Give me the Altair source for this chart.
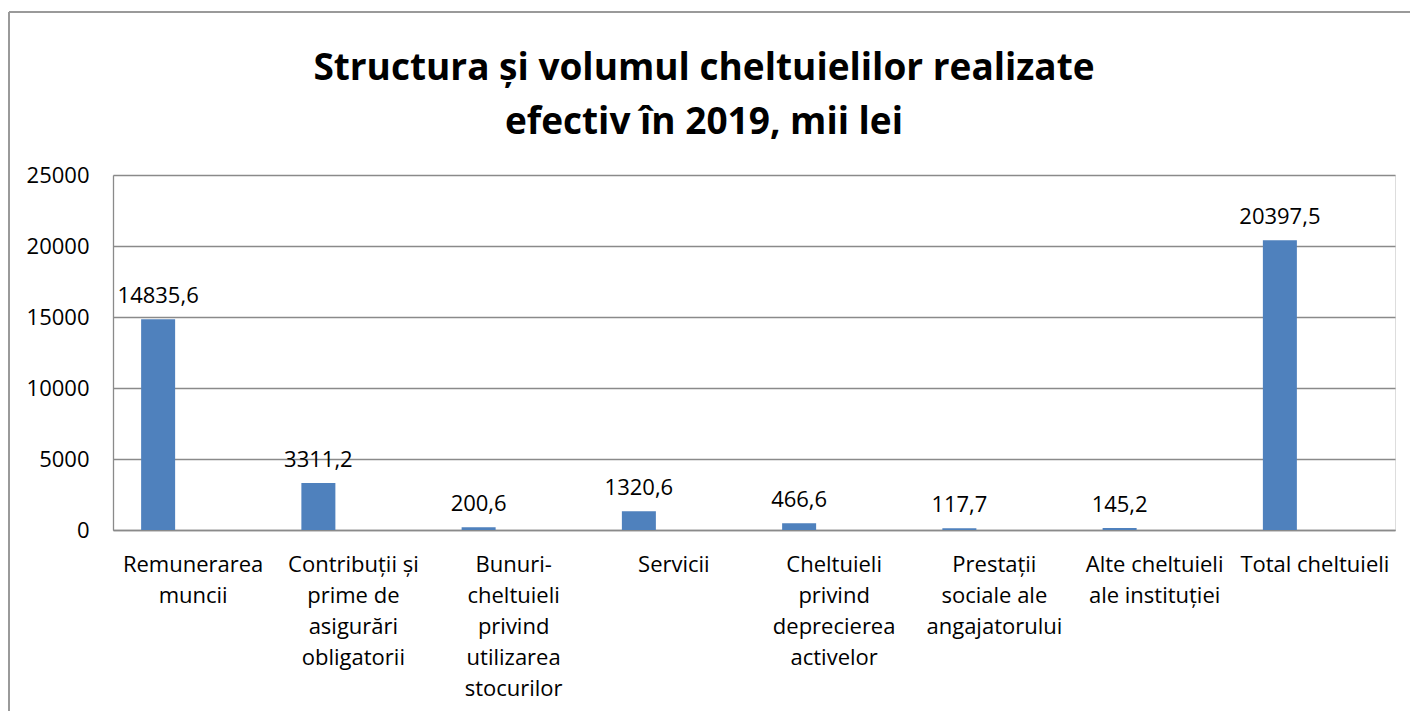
import altair as alt
import pandas as pd

categories = [
    "Remunerarea\nmuncii",
    "Contribuții și\nprime de\nasigurări\nobligatorii",
    "Bunuri-\ncheltuieli\nprivind\nutilizarea\nstocurilor",
    "Servicii",
    "Cheltuieli\nprivind\ndeprecierea\nactivelor",
    "Prestații\nsociale ale\nangajatorului",
    "Alte cheltuieli\nale instituției",
    "Total cheltuieli",
]
values = [14835.6, 3311.2, 200.6, 1320.6, 466.6, 117.7, 145.2, 20397.5]
y_ticks = [0, 5000, 10000, 15000, 20000, 25000]
title_lines = ["Structura și volumul cheltuielilor realizate", "efectiv în 2019, mii lei"]

df = pd.DataFrame({"cat": categories, "val": values})

FONT = "Open Sans"
GRID = "#8a8a8a"

base = alt.Chart(df).encode(
    x=alt.X(
        "cat:N",
        sort=None,
        scale=alt.Scale(paddingInner=0, paddingOuter=0),
        axis=alt.Axis(
            title=None,
            labelAngle=0,
            labelExpr="split(datum.label, '\\n')",
            labelFont=FONT,
            labelFontSize=22,
            labelLineHeight=31,
            labelBaseline="top",
            labelPadding=24,
            labelLimit=0,
            labelColor="black",
            ticks=False,
            domainColor=GRID,
            domainWidth=1.3,
        ),
    ),
    y=alt.Y(
        "val:Q",
        scale=alt.Scale(domain=[0, 25000], nice=False),
        axis=alt.Axis(
            title=None,
            values=y_ticks,
            format="d",
            labelFont=FONT,
            labelFontSize=22,
            labelPadding=24,
            labelColor="black",
            ticks=False,
            grid=True,
            gridColor=GRID,
            gridWidth=1.3,
            domainColor=GRID,
            domainWidth=1.3,
        ),
    ),
)

bars = base.mark_bar(size=34, xOffset=-35, color="#4F81BD")

labels = base.transform_calculate(
    lbl="replace(format(datum.val, '.1f'), '.', ',')"
).mark_text(
    xOffset=-35, dy=-16, baseline="alphabetic", align="center",
    font=FONT, fontSize=22, color="black"
).encode(text="lbl:N")

frame_df = pd.DataFrame({"k": [0]})
top_border = alt.Chart(frame_df).mark_rule(color="#9a9a9a", strokeWidth=2).encode(
    x=alt.value(-104), x2=alt.value(1300), y=alt.value(-163)
)
left_border = alt.Chart(frame_df).mark_rule(color="#9a9a9a", strokeWidth=2).encode(
    x=alt.value(-104), y=alt.value(-163), y2=alt.value(540)
)
title = alt.Chart(frame_df).mark_text(
    text=title_lines, font=FONT, fontSize=37, fontWeight="bold",
    color="black", align="center", baseline="alphabetic", lineHeight=54
).encode(x=alt.value(591), y=alt.value(-95))

chart = alt.layer(top_border, left_border, title, bars, labels).properties(
    width=1282,
    height=355,
    autosize=alt.AutoSizeParams(type="none"),
    padding={"left": 113, "top": 175, "right": 15, "bottom": 181},
).configure_view(stroke="transparent").configure(background="white")

chart.save("out.html", embed_options={"renderer": "svg", "actions": False})
